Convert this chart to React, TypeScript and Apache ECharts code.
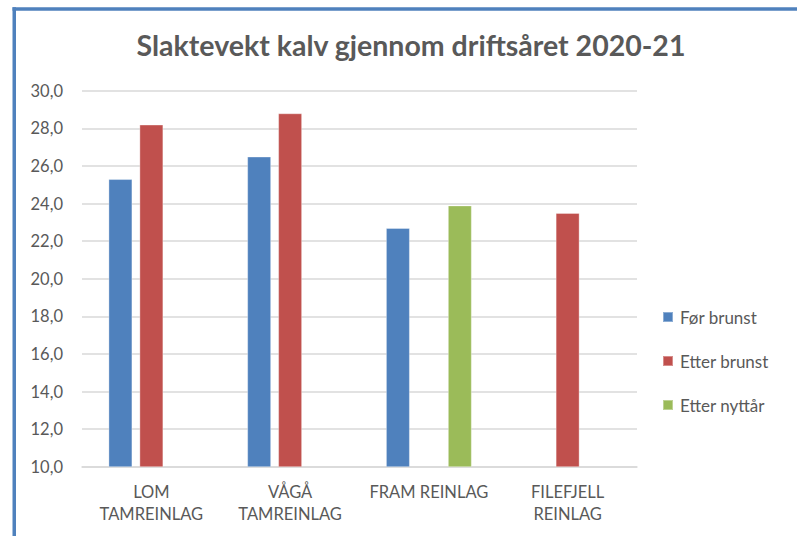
import React, { useEffect, useRef } from "react";
import * as echarts from "echarts";

const title = "Slaktevekt kalv gjennom driftsåret 2020-21";
const categories = ["LOM\nTAMREINLAG", "VÅGÅ\nTAMREINLAG", "FRAM REINLAG", "FILEFJELL\nREINLAG"];
const seriesNames = ["Før brunst", "Etter brunst", "Etter nyttår"];
const forBrunst = [25.3, 26.5, 22.7, null];
const etterBrunst = [28.2, 28.8, null, 23.5];
const etterNyttar = [null, null, 23.9, null];
const colors = ["#4F81BD", "#C0504D", "#9BBB59"];
const yMin = 10;
const yMax = 30;
const yStep = 2;

const FONT = "Lato";

export default function App() {
  const ref = useRef<HTMLDivElement>(null);
  useEffect(() => {
    if (!ref.current) return;
    const chart = echarts.init(ref.current, undefined, { renderer: "svg" });
    const data = [forBrunst, etterBrunst, etterNyttar];
    chart.setOption({
      animation: false,
      backgroundColor: "#ffffff",
      textStyle: { fontFamily: FONT },
      title: {
        text: title,
        left: 406,
        textAlign: "center",
        top: 25,
        textStyle: { fontFamily: FONT, fontSize: 28.5, fontWeight: "bold", color: "#595959" },
      },
      legend: {
        orient: "vertical",
        left: 662,
        top: 308,
        padding: 0,
        icon: "rect",
        itemWidth: 10,
        itemHeight: 10,
        itemGap: 26,
        data: seriesNames,
        textStyle: { fontFamily: FONT, fontSize: 17, color: "#595959", lineHeight: 18, padding: [0, 0, 0, 2] },
      },
      grid: { left: 82, right: 160, top: 90.7, bottom: 69.3, containLabel: false },
      xAxis: {
        type: "category",
        data: categories,
        axisLine: { show: true, lineStyle: { color: "#d9d9d9", width: 1.5 } },
        axisTick: { show: false },
        axisLabel: {
          interval: 0,
          margin: 14,
          fontFamily: FONT,
          fontSize: 16.5,
          lineHeight: 22,
          color: "#595959",
        },
      },
      yAxis: {
        type: "value",
        min: yMin,
        max: yMax,
        interval: yStep,
        axisLine: { show: false },
        axisTick: { show: false },
        splitLine: { lineStyle: { color: "#d9d9d9", width: 1.5 } },
        axisLabel: {
          margin: 19,
          fontFamily: FONT,
          fontSize: 16.5,
          color: "#595959",
          formatter: (v: number) => v.toFixed(1).replace(".", ","),
        },
      },
      series: seriesNames.map((name, i) => ({
        name,
        type: "bar",
        data: data[i],
        barWidth: 24,
        barGap: "29%",
        itemStyle: { color: colors[i], borderColor: "rgba(255,255,255,0.35)", borderWidth: 1 },
      })),
      graphic: [
        { type: "rect", shape: { x: 12.5, y: 7.3, width: 3.5, height: 540 }, style: { fill: "#4F81BD" }, z: 100 },
        { type: "rect", shape: { x: 12.5, y: 7.3, width: 800, height: 3.5 }, style: { fill: "#4F81BD" }, z: 100 },
      ],
    });
    return () => chart.dispose();
  }, []);
  return (
    <div style={{ position: "fixed", left: 0, top: 0, width: 797, height: 536, background: "#fff" }}>
      <div ref={ref} style={{ width: 797, height: 536 }} />
    </div>
  );
}
